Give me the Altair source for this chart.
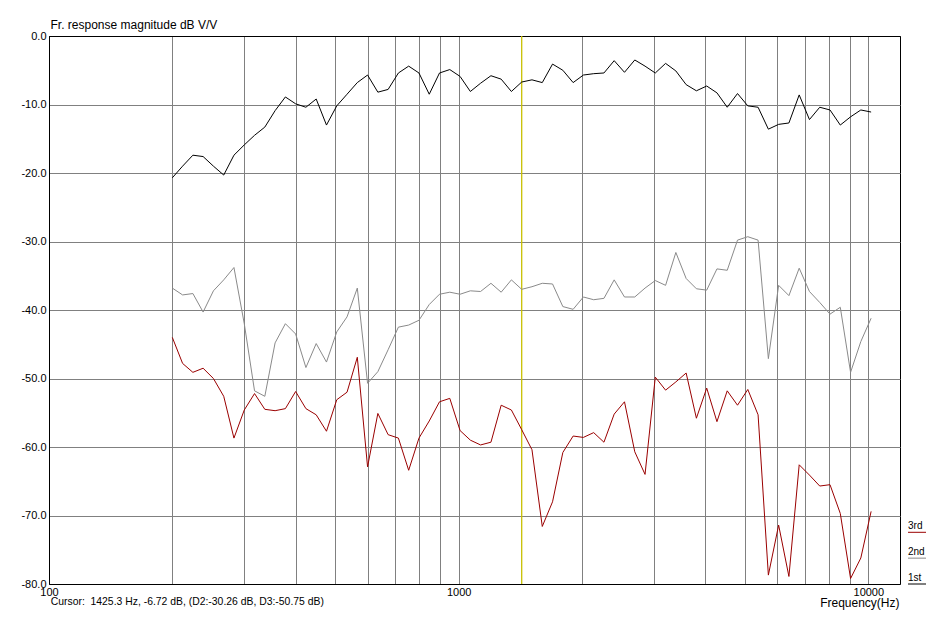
import altair as alt
import pandas as pd

# 1/12-octave analysis frequencies (Hz)
freqs = [200, 211.9, 224.5, 237.8, 252.0, 267.0, 282.8, 299.7, 317.5, 336.4,
         356.4, 377.6, 400, 423.8, 449.0, 475.7, 504.0, 534.0, 565.7, 599.3,
         635.0, 672.7, 712.7, 755.1, 800, 847.6, 898.0, 951.4, 1008, 1068,
         1131, 1199, 1270, 1345, 1425.3, 1510, 1600, 1695, 1796, 1903,
         2016, 2136, 2263, 2397, 2540, 2691, 2851, 3020, 3200, 3390,
         3592, 3805, 4032, 4271, 4525, 4794, 5080, 5382, 5702, 6041,
         6400, 6781, 7184, 7611, 8063, 8543, 9051, 9589, 10159]

first = [-20.7, -19.0, -17.4, -17.6, -19.0, -20.3, -17.4, -15.9, -14.5, -13.3,
         -10.9, -8.9, -9.9, -10.4, -9.2, -13.0, -10.2, -8.5, -6.8, -5.7,
         -8.2, -7.8, -5.4, -4.4, -5.4, -8.5, -5.4, -4.9, -5.9, -8.1,
         -6.9, -5.8, -6.3, -8.1, -6.72, -6.4, -6.8, -4.1, -5.0, -6.8,
         -5.7, -5.5, -5.4, -3.6, -5.3, -3.5, -4.4, -5.4, -4.0, -5.1,
         -7.1, -8.0, -7.3, -8.3, -10.4, -8.4, -10.2, -10.4, -13.6, -12.9,
         -12.7, -8.6, -12.2, -10.4, -10.8, -13.0, -11.8, -10.8, -11.1]

second = [-36.8, -37.8, -37.6, -40.3, -37.2, -35.6, -33.8, -42.0, -51.8, -52.6,
          -44.8, -42.0, -43.5, -48.4, -44.9, -47.6, -43.2, -41.0, -36.8, -50.7,
          -49.0, -45.8, -42.5, -42.2, -41.5, -39.2, -37.7, -37.4, -37.7, -37.2,
          -37.3, -36.1, -37.4, -35.6, -36.98, -36.6, -36.1, -36.2, -39.5, -39.9,
          -38.1, -38.5, -38.3, -35.6, -38.1, -38.1, -36.8, -35.7, -36.4, -31.6,
          -35.4, -36.9, -37.1, -34.0, -34.2, -29.8, -29.3, -29.8, -47.1, -36.4,
          -37.9, -33.9, -37.3, -38.9, -40.6, -39.6, -49.1, -44.6, -41.2]

third = [-44.0, -47.8, -49.1, -48.5, -50.0, -52.6, -58.7, -54.6, -52.2, -54.5,
         -54.7, -54.4, -51.9, -54.4, -55.3, -57.7, -53.1, -52.0, -46.9, -62.9,
         -55.1, -58.2, -58.7, -63.4, -58.7, -56.2, -53.4, -52.9, -57.6, -59.0,
         -59.7, -59.3, -53.9, -54.6, -57.47, -60.4, -71.6, -68.0, -60.8, -58.4,
         -58.6, -57.9, -59.3, -55.2, -53.4, -60.7, -64.0, -49.8, -51.7, -50.5,
         -49.2, -55.8, -51.4, -56.3, -51.8, -53.9, -51.6, -55.3, -78.7, -71.4,
         -78.9, -62.6, -64.1, -65.7, -65.5, -69.7, -79.2, -76.2, -69.4]

series_names = ["1st", "2nd", "3rd"]
series_colors = ["#000000", "#8a8a8a", "#9a0000"]

cursor_freq = 1425.3
cursor_db = -6.72
cursor_d2 = -30.26
cursor_d3 = -50.75

x_grid_values = [100, 200, 300, 400, 500, 600, 700, 800, 900,
                 1000, 2000, 3000, 4000, 5000, 6000, 7000, 8000, 9000, 10000]
y_tick_values = [0, -10, -20, -30, -40, -50, -60, -70, -80]

FONT = "Liberation Sans"

rows = []
for name, vals in zip(series_names, [first, second, third]):
    for f, v in zip(freqs, vals):
        rows.append({"freq": f, "db": v, "series": name})
df = pd.DataFrame(rows)

x_enc = alt.X(
    "freq:Q",
    scale=alt.Scale(type="log", domain=[100, 11950], nice=False),
    axis=alt.Axis(
        values=x_grid_values,
        format="d",
        labelExpr="(datum.value == 100 || datum.value == 1000 || datum.value == 10000) ? datum.label : ''",
        labelOverlap=False,
        labelFlush=False,
        labelBound=False,
        ticks=False,
        labelPadding=2,
        labelFont=FONT,
        labelFontSize=11,
        labelColor="#000000",
        grid=True,
        gridColor={"condition": {"test": "datum.value == 100", "value": "#000000"}, "value": "#808080"},
        gridWidth=1,
        domainColor="#000000",
        title="Frequency(Hz)",
        titleFont=FONT,
        titleFontSize=12,
        titleFontWeight="normal",
        titleColor="#000000",
        titleAlign="right",
        titleBaseline="alphabetic",
        titleX=850,
        titleY=22,
    ),
)

y_enc = alt.Y(
    "db:Q",
    scale=alt.Scale(domain=[-80, 0], nice=False),
    axis=alt.Axis(
        values=y_tick_values,
        labelExpr="(datum.value < 0 ? '-' : '') + format(abs(datum.value), '.1f')",
        ticks=False,
        labelPadding=3,
        labelFont=FONT,
        labelFontSize=11,
        labelColor="#000000",
        grid=True,
        gridColor={"condition": {"test": "datum.value == 0", "value": "#000000"}, "value": "#808080"},
        gridWidth=1,
        domainColor="#000000",
        title="Fr. response magnitude dB V/V",
        titleFont=FONT,
        titleFontSize=12,
        titleFontWeight="normal",
        titleColor="#000000",
        titleAngle=0,
        titleAlign="left",
        titleBaseline="alphabetic",
        titleX=1,
        titleY=-7.7,
    ),
)

cursor_df = pd.DataFrame({"freq": [cursor_freq]})
cursor_rule = alt.Chart(cursor_df).mark_rule(color="#c8c000", strokeWidth=1.3).encode(
    x=alt.X("freq:Q")
)

lines = alt.Chart(df).mark_line(strokeWidth=1, interpolate="linear").encode(
    x=x_enc,
    y=y_enc,
    color=alt.Color("series:N",
                    scale=alt.Scale(domain=series_names, range=series_colors),
                    legend=None),
    detail="series:N",
)

cursor_text = (f"Cursor:\u00a0 {cursor_freq} Hz, {cursor_db:.2f} dB, "
               f"(D2:{cursor_d2:.2f} dB, D3:{cursor_d3:.2f} dB)")
ctext_df = pd.DataFrame({"t": [cursor_text]})
ctext = alt.Chart(ctext_df).mark_text(
    align="left", baseline="alphabetic", font=FONT, fontSize=10.4, color="#000000"
).encode(x=alt.value(1.7), y=alt.value(569), text="t:N")

layers = [cursor_rule, lines, ctext]

# legend entries (label with a short line underneath), top to bottom: 3rd, 2nd, 1st
legend_items = list(zip(series_names, series_colors))[::-1]
for i, (name, col) in enumerate(legend_items):
    ldf = pd.DataFrame({"t": [name]})
    base_line = 496.3 + i * 25.85
    layers.append(
        alt.Chart(ldf).mark_text(
            align="left", baseline="alphabetic", font=FONT, fontSize=10, color="#000000"
        ).encode(x=alt.value(859), y=alt.value(base_line - 3.2), text="t:N")
    )
    layers.append(
        alt.Chart(ldf).mark_rule(color=col, strokeWidth=1).encode(
            x=alt.value(859), x2=alt.value(877), y=alt.value(base_line)
        )
    )

chart = alt.layer(*layers).properties(
    width=851,
    height=548,
    padding={"left": 41, "top": 28, "right": 40, "bottom": 26},
    autosize=alt.AutoSizeParams(type="none"),
    background="#ffffff",
).configure_view(
    stroke="#000000", strokeWidth=1
).configure_axis(
    domainWidth=1
)

chart.save("out.html", embed_options={"renderer": "svg", "actions": False})
